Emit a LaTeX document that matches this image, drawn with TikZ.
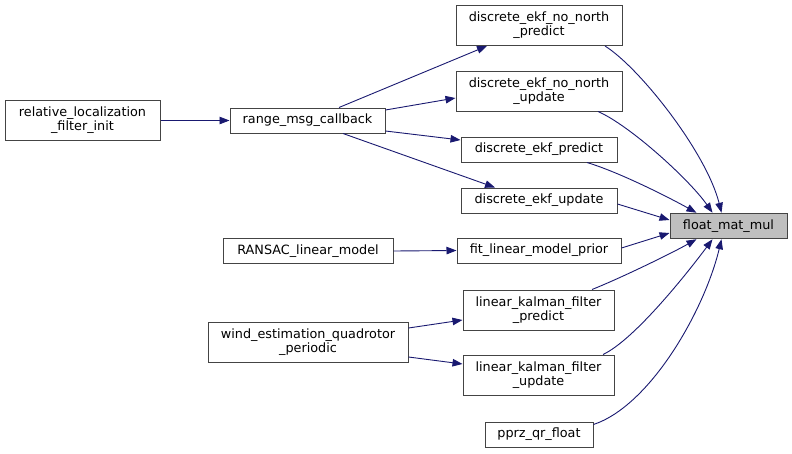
\documentclass[tikz,border=0pt]{standalone}
\usepackage{fontspec}
\setmainfont{DejaVu Sans}
\usetikzlibrary{arrows.meta,calc}
\definecolor{edgeblue}{HTML}{191970}
\definecolor{boxline}{HTML}{444444}
\definecolor{hlfill}{HTML}{BFBFBF}
\tikzset{
  fnbox/.style={draw=boxline, line width=1pt, fill=white, inner sep=0pt, align=center,
    font=\fontsize{12.8}{14}\selectfont},
  hlbox/.style={fnbox, fill=hlfill},
  calls/.style={draw=edgeblue, line width=0.9pt, -{Triangle[length=10pt,width=7.5pt]}, fill=none},
}
\begin{document}
\begin{tikzpicture}[x=1pt,y=-1pt]
\useasboundingbox (0,0) rectangle (792,453);
% nodes
\node[fnbox, minimum width=155, minimum height=40] (rel) at (82.5,120.5) {relative\_localization\\\_filter\_init};
\node[fnbox, minimum width=155, minimum height=25] (range) at (307.5,120.5) {range\_msg\_callback};
\node[fnbox, minimum width=166, minimum height=40] (nnp) at (539,25.5) {discrete\_ekf\_no\_north\\\_predict};
\node[fnbox, minimum width=166, minimum height=40] (nnu) at (539,91) {discrete\_ekf\_no\_north\\\_update};
\node[fnbox, minimum width=156, minimum height=25] (ekfp) at (539,149.5) {discrete\_ekf\_predict};
\node[fnbox, minimum width=156, minimum height=25] (ekfu) at (539,200.5) {discrete\_ekf\_update};
\node[hlbox, minimum width=117, minimum height=25.5] (fmm) at (728.5,226) {float\_mat\_mul};
\node[fnbox, minimum width=164, minimum height=25] (fit) at (539,250.5) {fit\_linear\_model\_prior};
\node[fnbox, minimum width=170, minimum height=25.5] (ransac) at (308,251) {RANSAC\_linear\_model};
\node[fnbox, minimum width=151, minimum height=40] (lkfp) at (538.5,310) {linear\_kalman\_filter\\\_predict};
\node[fnbox, minimum width=151, minimum height=40] (lkfu) at (538.5,375) {linear\_kalman\_filter\\\_update};
\node[fnbox, minimum width=200, minimum height=40] (wind) at (308,342) {wind\_estimation\_quadrotor\\\_periodic};
\node[fnbox, minimum width=108, minimum height=25] (pprz) at (539,434.5) {pprz\_qr\_float};
% left edges
\draw[calls] (rel.east) -- (range.west);
\draw[calls] ($(range.north)+(31.5,0)$) -- ($(nnp.south)+(-52,0)$);
\draw[calls] ($(range.east)+(0,-10.5)$) -- ($(nnu.west)+(0,7)$);
\draw[calls] ($(range.east)+(0,10.5)$) -- ($(ekfp.west)+(0,-9.5)$);
\draw[calls] ($(range.south)+(35.5,0)$) -- ($(ekfu.north)+(-44,0)$);
\draw[calls] (ransac.east) -- (fit.west);
\draw[calls] ($(wind.east)+(0,-14)$) -- ($(lkfp.west)+(0,10)$);
\draw[calls] ($(wind.east)+(0,15)$) -- ($(lkfu.west)+(0,-11)$);
% edges to float_mat_mul
\draw[calls] ($(nnp.south)+(66,0)$) .. controls +(35,22) and +(-15,-60) .. ($(fmm.north west)+(52,0)$);
\draw[calls] ($(nnu.south)+(59,0)$) .. controls +(32,14) and +(-23,-33) .. ($(fmm.north west)+(43,0)$);
\draw[calls] ($(ekfp.south)+(48,0)$) .. controls +(33,10) and +(-27,-15) .. ($(fmm.north west)+(27,0)$);
\draw[calls] ($(ekfu.east)+(0,3.5)$) -- ($(fmm.west)+(0,-6)$);
\draw[calls] ($(fit.east)+(0,-2.5)$) -- ($(fmm.west)+(0,7)$);
\draw[calls] ($(lkfp.north)+(53.5,0)$) .. controls +(30,-12) and +(-25,14) .. ($(fmm.south west)+(27,0)$);
\draw[calls] ($(lkfu.north)+(64.5,0)$) .. controls +(32,-15) and +(-23,31) .. ($(fmm.south west)+(43,0)$);
\draw[calls] ($(pprz.east)+(0,-10)$) .. controls +(57,-19) and +(-17,71) .. ($(fmm.south west)+(52,0)$);
\end{tikzpicture}
\end{document}
